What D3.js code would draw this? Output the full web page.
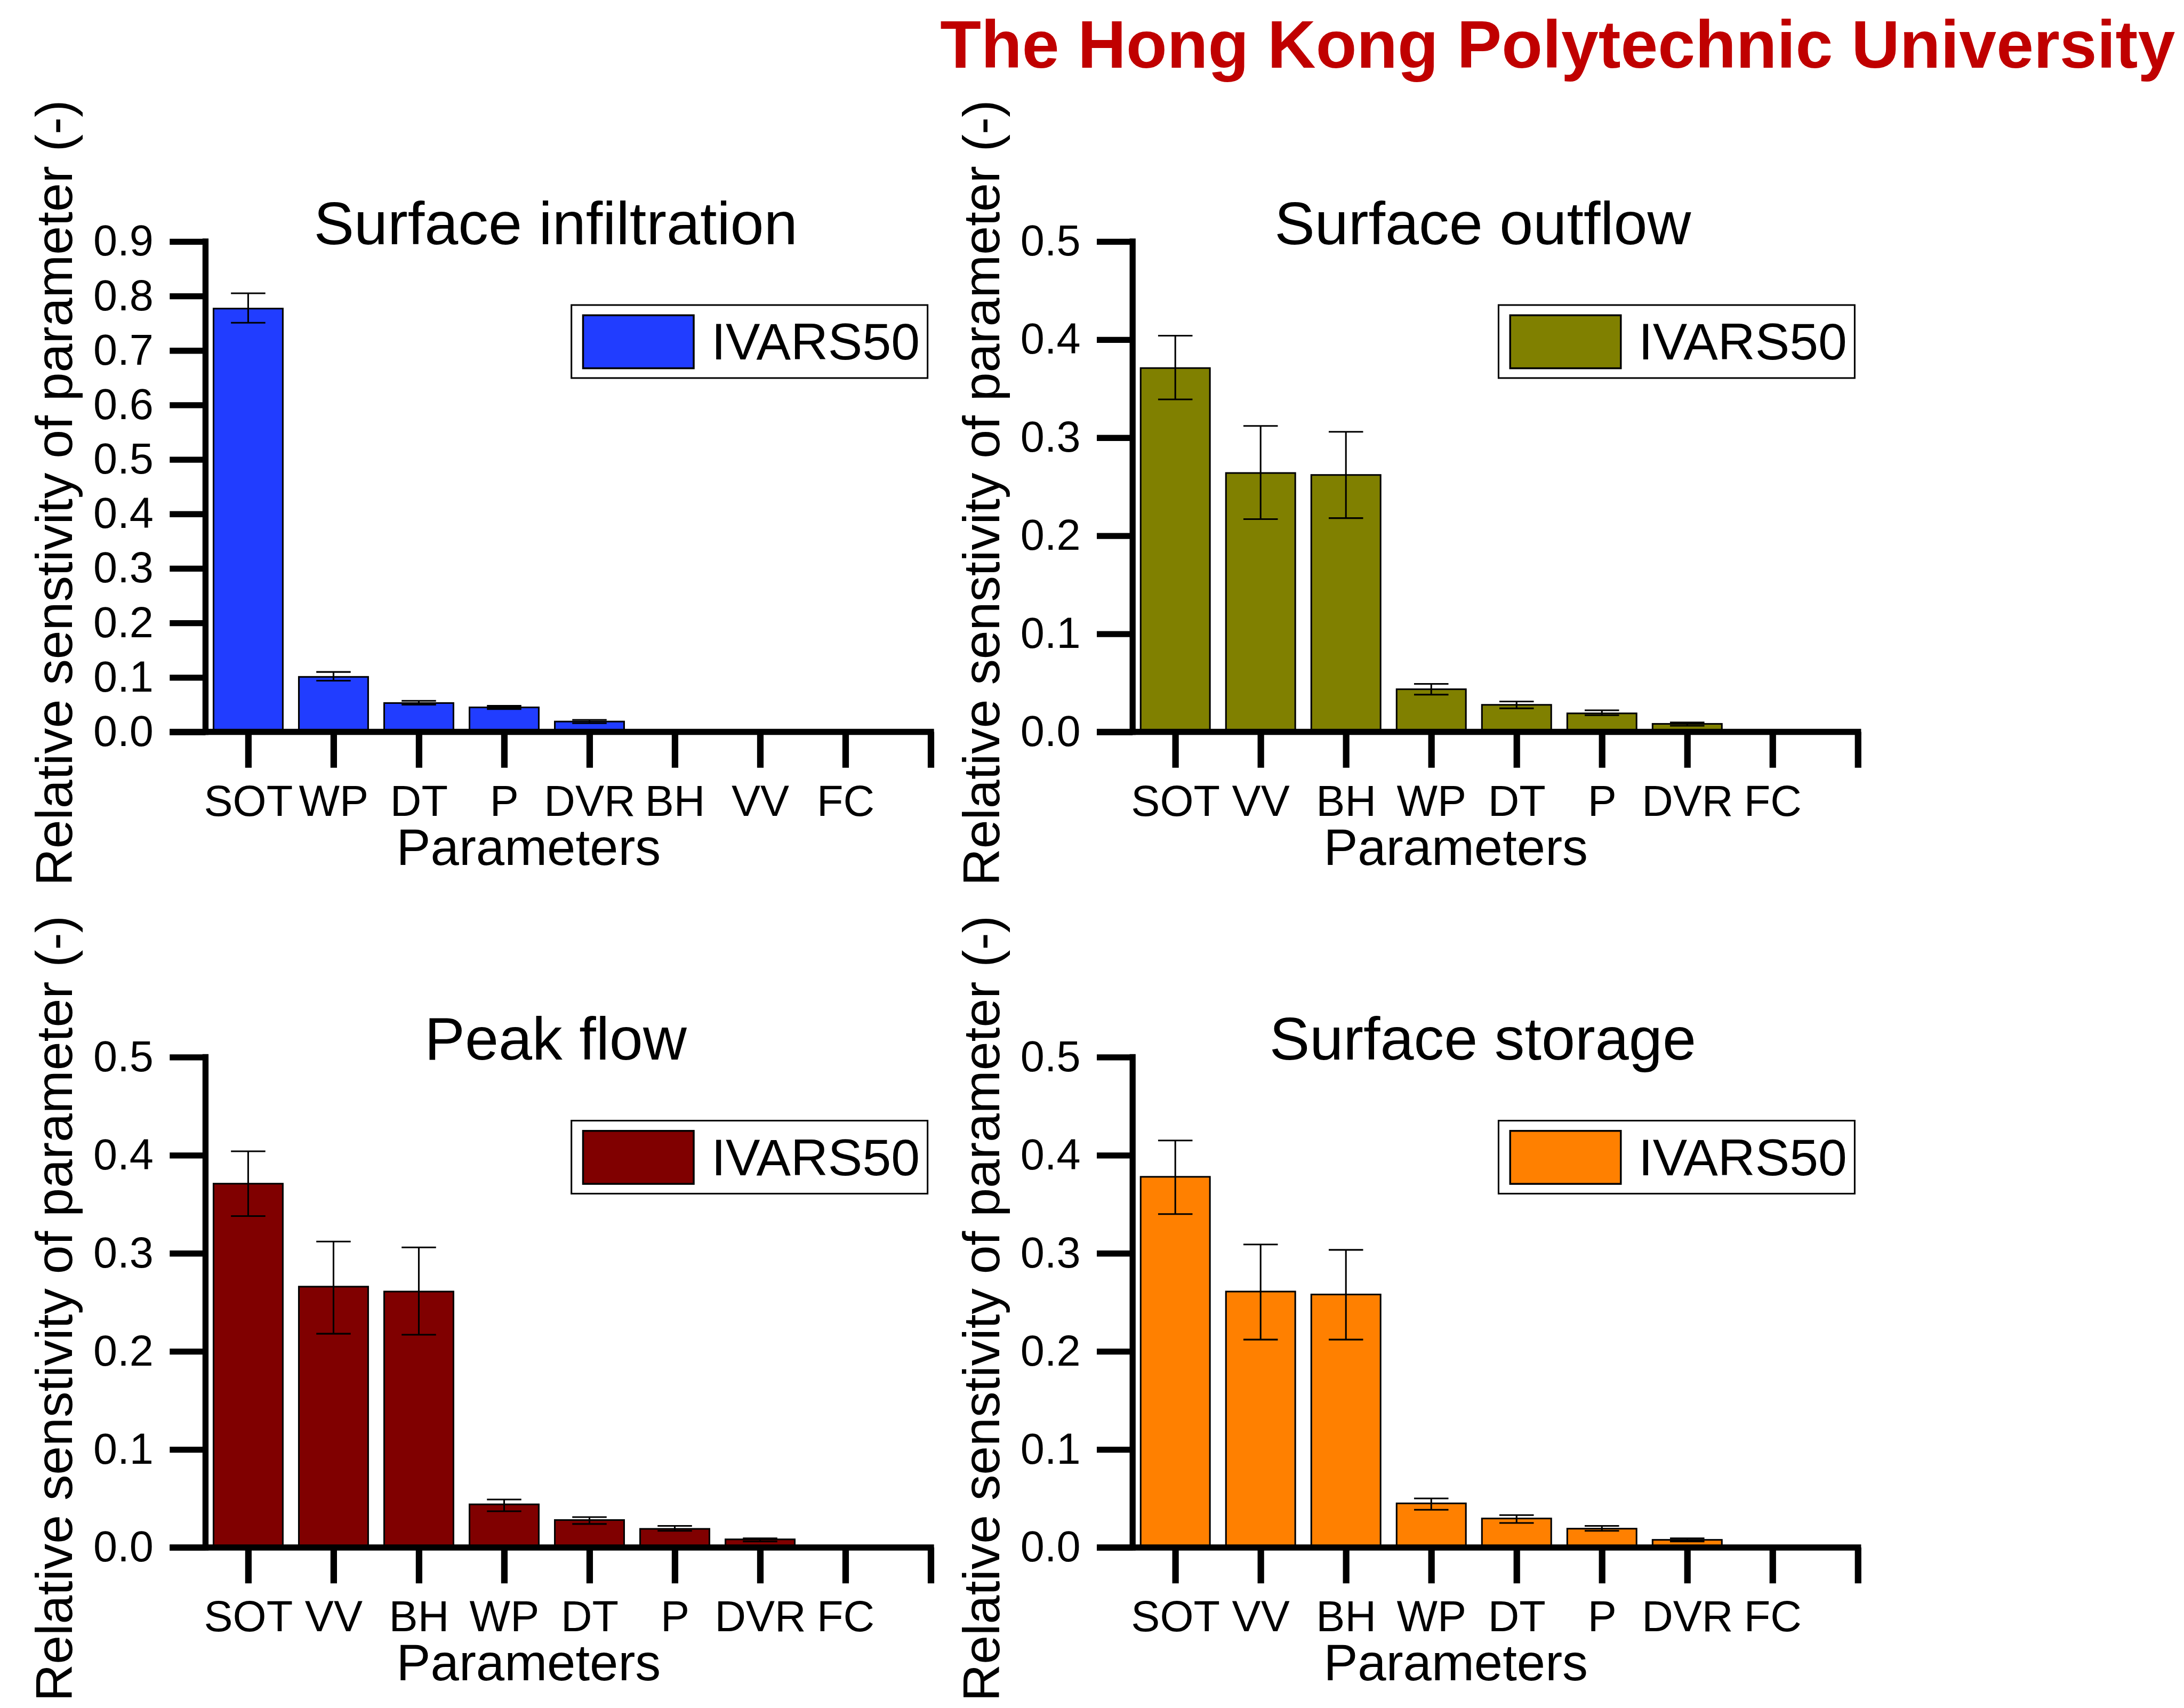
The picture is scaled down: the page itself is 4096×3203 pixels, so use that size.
<!DOCTYPE html>
<html>
<head>
<meta charset="utf-8">
<script src="https://cdn.jsdelivr.net/npm/d3@7"></script>
<style>
  body { margin: 0; background: #fff; }
  text { font-family: "Liberation Sans", Arial, sans-serif; }
</style>
</head>
<body>
<div id="chart"></div>
<script>
        // categories (order differs between panels)
        const catsInfil = ["SOT", "WP", "DT", "P", "DVR", "BH", "VV", "FC"];
        const catsOther = ["SOT", "VV", "BH", "WP", "DT", "P", "DVR", "FC"];

        // IVARS50 values with error bar limits
        const infilVals = [0.777, 0.101, 0.053, 0.045, 0.019, 0, 0, 0];
        const infilLo   = [0.751, 0.094, 0.050, 0.042, 0.016, 0, 0, 0];
        const infilHi   = [0.805, 0.110, 0.057, 0.048, 0.022, 0, 0, 0];

        const outflowVals = [0.371, 0.264, 0.262, 0.0435, 0.0276, 0.0189, 0.0082, 0];
        const outflowLo   = [0.339, 0.217, 0.218, 0.038, 0.024, 0.017, 0.0063, 0];
        const outflowHi   = [0.404, 0.312, 0.306, 0.049, 0.031, 0.022, 0.0097, 0];

        const peakVals = [0.371, 0.266, 0.261, 0.044, 0.028, 0.019, 0.0083, 0];
        const peakLo   = [0.338, 0.218, 0.217, 0.037, 0.024, 0.017, 0.0062, 0];
        const peakHi   = [0.404, 0.312, 0.306, 0.049, 0.031, 0.022, 0.0094, 0];

        const storageVals = [0.378, 0.261, 0.258, 0.045, 0.0296, 0.0192, 0.0078, 0];
        const storageLo   = [0.340, 0.212, 0.212, 0.0385, 0.025, 0.017, 0.0062, 0];
        const storageHi   = [0.415, 0.309, 0.3035, 0.050, 0.033, 0.022, 0.0094, 0];

        const yTicksInfil = [0, 0.1, 0.2, 0.3, 0.4, 0.5, 0.6, 0.7, 0.8, 0.9];
        const yTicksOther = [0, 0.1, 0.2, 0.3, 0.4, 0.5];

        const panels = [
            { title: "Surface infiltration", cats: catsInfil, vals: infilVals, lo: infilLo, hi: infilHi, ticks: yTicksInfil, color: "#213DFF", col: 0, row: 0 },
            { title: "Surface outflow", cats: catsOther, vals: outflowVals, lo: outflowLo, hi: outflowHi, ticks: yTicksOther, color: "#808000", col: 1, row: 0 },
            { title: "Peak flow", cats: catsOther, vals: peakVals, lo: peakLo, hi: peakHi, ticks: yTicksOther, color: "#800000", col: 0, row: 1 },
            { title: "Surface storage", cats: catsOther, vals: storageVals, lo: storageLo, hi: storageHi, ticks: yTicksOther, color: "#FF8000", col: 1, row: 1 }
        ];

        const width = 4096;
        const height = 3203;
        const k = 0.872; // everything laid out in reference pixels, then scaled

        const svg = d3.select("#chart").append("svg")
            .attr("width", width)
            .attr("height", height);

        const root = svg.append("g").attr("transform", `scale(${k})`);

        root.append("text")
            .attr("x", 4678)
            .attr("y", 146)
            .attr("text-anchor", "end")
            .attr("font-size", 144)
            .attr("font-weight", "bold")
            .attr("fill", "#C00000")
            .text("The Hong Kong Polytechnic University");

        const colDx = 1994, rowDy = 1754;
        const axisX = 442, yZero = 1574, yTop = 519.5;
        const lw = 13;

        function drawPanel(p) {
            const g = root.append("g")
                .attr("transform", `translate(${p.col * colDx}, ${p.row * rowDy})`);

            const ymax = p.ticks[p.ticks.length - 1];
            const y = d3.scaleLinear().domain([0, ymax]).range([yZero, yTop]);
            const x = d3.scaleLinear().domain([0.5, 9]).range([axisX, 2001.8]);
            const barW = 149;

            // bars
            const idx = d3.range(p.vals.length).filter(i => p.vals[i] > 0);
            g.selectAll("rect.bar").data(idx).enter().append("rect")
                .attr("class", "bar")
                .attr("x", i => x(i + 1) - barW / 2)
                .attr("y", i => y(p.vals[i]))
                .attr("width", barW)
                .attr("height", i => yZero - y(p.vals[i]))
                .attr("fill", p.color)
                .attr("stroke", "#000")
                .attr("stroke-width", 3.5);

            // error bars
            const eb = g.selectAll("g.err").data(idx).enter().append("g")
                .attr("class", "err")
                .attr("stroke", "#000")
                .attr("stroke-width", 3.5);
            eb.append("line")
                .attr("x1", i => x(i + 1)).attr("x2", i => x(i + 1))
                .attr("y1", i => y(p.lo[i])).attr("y2", i => y(p.hi[i]));
            eb.append("line")
                .attr("x1", i => x(i + 1) - 37).attr("x2", i => x(i + 1) + 37)
                .attr("y1", i => y(p.hi[i])).attr("y2", i => y(p.hi[i]));
            eb.append("line")
                .attr("x1", i => x(i + 1) - 37).attr("x2", i => x(i + 1) + 37)
                .attr("y1", i => y(p.lo[i])).attr("y2", i => y(p.lo[i]));

            // y axis ticks + labels
            const yAxis = d3.axisLeft(y)
                .tickValues(p.ticks)
                .tickSize(77)
                .tickPadding(35)
                .tickFormat(d3.format(".1f"));
            const ya = g.append("g").attr("transform", `translate(${axisX},0)`).call(yAxis);
            ya.select(".domain").remove();
            ya.selectAll(".tick line").attr("stroke", "#000").attr("stroke-width", lw);
            ya.selectAll(".tick text")
                .attr("font-size", 93)
                .attr("font-family", "Liberation Sans, Arial, sans-serif")
                .attr("fill", "#000");

            // x axis ticks + labels
            const xAxis = d3.axisBottom(x)
                .tickValues(d3.range(1, 10))
                .tickSize(77)
                .tickPadding(37)
                .tickFormat(d => p.cats[d - 1] || "");
            const xa = g.append("g").attr("transform", `translate(0,${yZero})`).call(xAxis);
            xa.select(".domain").remove();
            xa.selectAll(".tick line").attr("stroke", "#000").attr("stroke-width", 14);
            xa.selectAll(".tick text")
                .attr("font-size", 93)
                .attr("font-family", "Liberation Sans, Arial, sans-serif")
                .attr("fill", "#000");

            // axis lines
            g.append("line")
                .attr("x1", axisX).attr("x2", axisX)
                .attr("y1", yTop - lw / 2).attr("y2", yZero + lw / 2)
                .attr("stroke", "#000").attr("stroke-width", lw);
            g.append("line")
                .attr("x1", axisX - 77).attr("x2", x(9) + 7)
                .attr("y1", yZero).attr("y2", yZero)
                .attr("stroke", "#000").attr("stroke-width", lw);

            // titles
            g.append("text")
                .attr("x", 1195).attr("y", 525)
                .attr("text-anchor", "middle")
                .attr("font-size", 130)
                .text(p.title);

            g.append("text")
                .attr("x", 1137).attr("y", 1860)
                .attr("text-anchor", "middle")
                .attr("font-size", 110)
                .text("Parameters");

            g.append("text")
                .attr("transform", "translate(155,1060) rotate(-90)")
                .attr("text-anchor", "middle")
                .attr("font-size", 111)
                .text("Relative senstivity of parameter (-)");

            // legend
            g.append("rect")
                .attr("x", 1229).attr("y", 656)
                .attr("width", 766).attr("height", 157)
                .attr("fill", "#fff").attr("stroke", "#000").attr("stroke-width", 3.5);
            g.append("rect")
                .attr("x", 1254).attr("y", 678)
                .attr("width", 238).attr("height", 114)
                .attr("fill", p.color).attr("stroke", "#000").attr("stroke-width", 4);
            g.append("text")
                .attr("x", 1530).attr("y", 773.5)
                .attr("font-size", 111)
                .text("IVARS50");
        }

        panels.forEach(drawPanel);
</script>
</body>
</html>
